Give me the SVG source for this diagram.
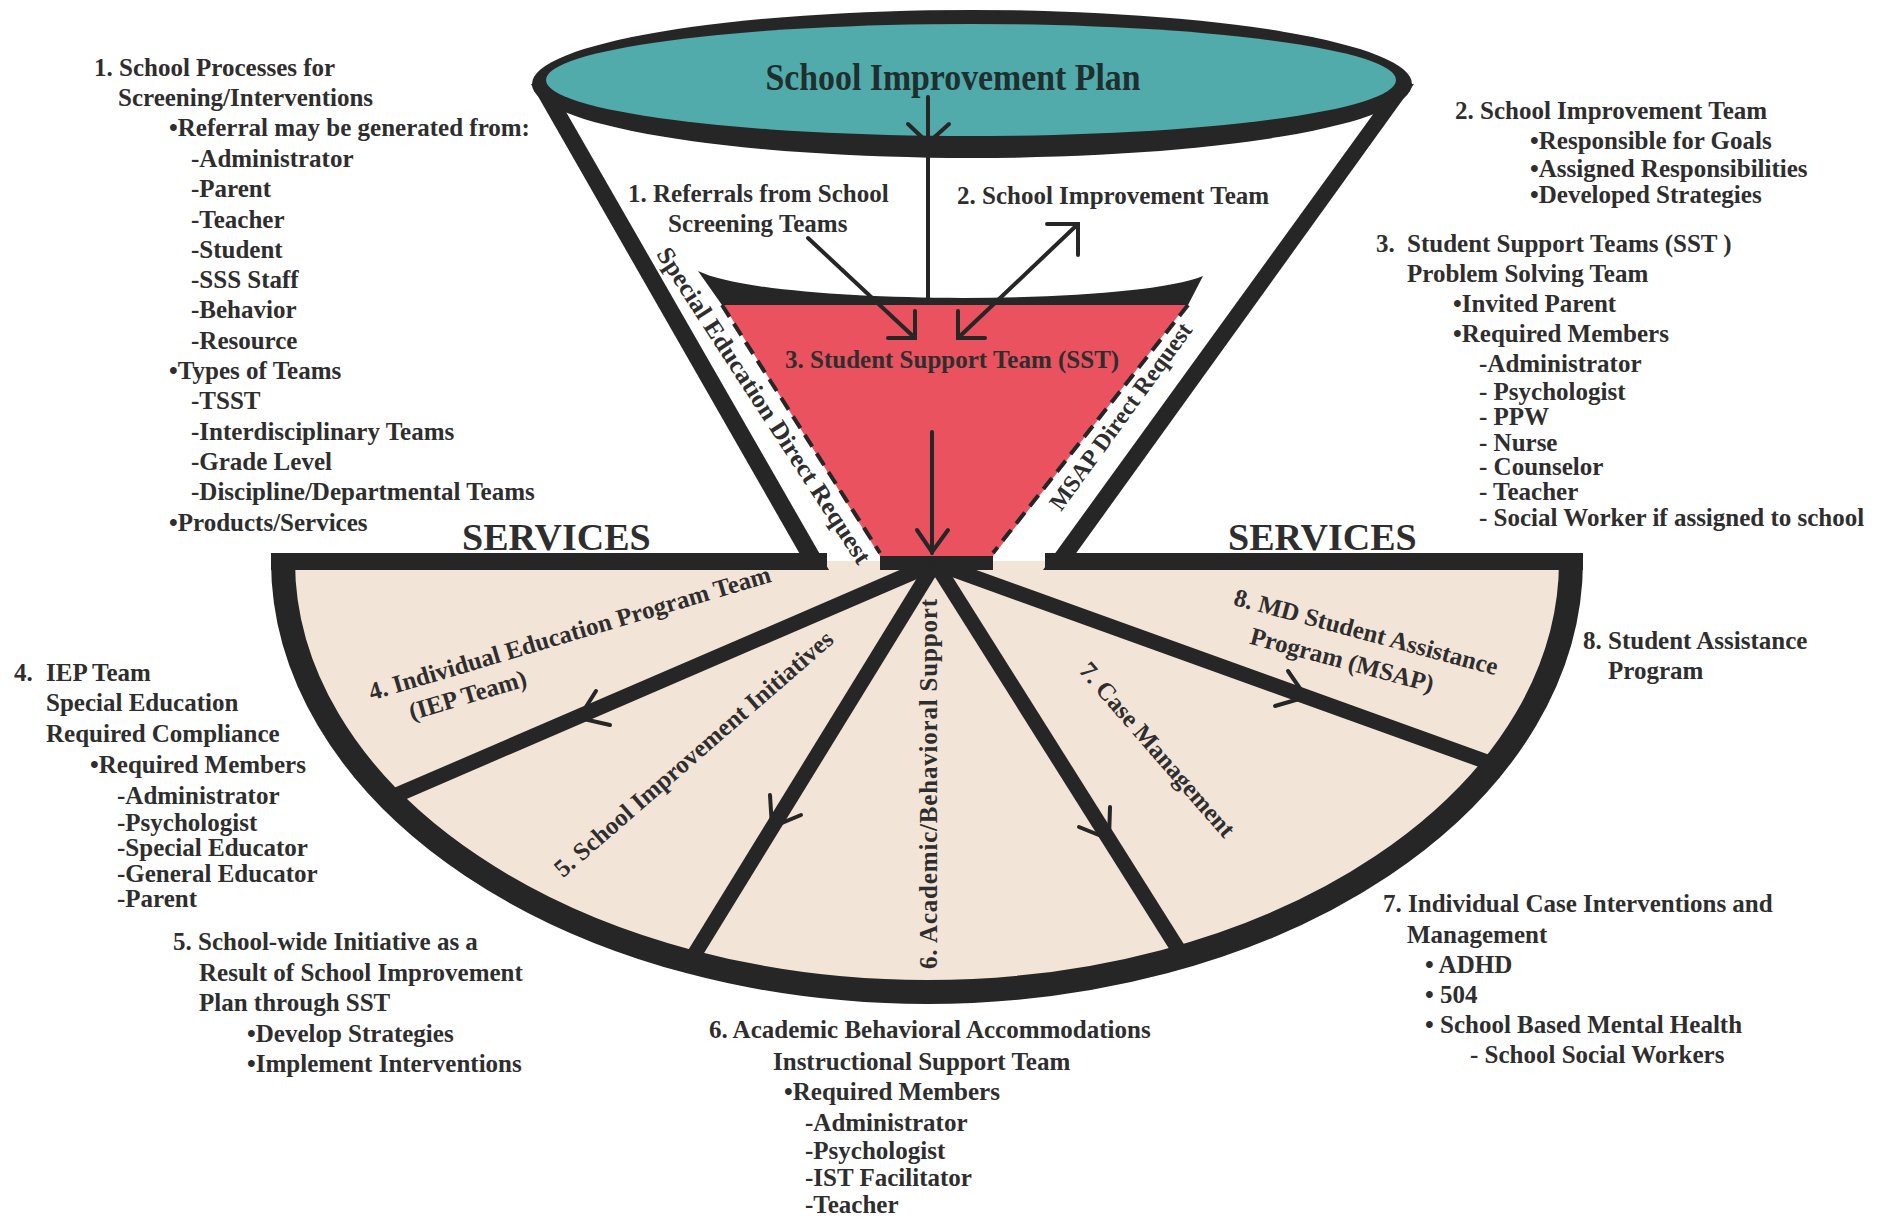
<svg xmlns="http://www.w3.org/2000/svg" width="1892" height="1218" viewBox="0 0 1892 1218">
<defs>
<style>
.t{font-family:"Liberation Serif","Times New Roman",serif;font-weight:bold;font-size:25px;fill:#2e2e2e}
.blk{fill:#262626}
.ln{stroke:#262626;stroke-width:4;fill:none;stroke-linecap:round;stroke-linejoin:miter}
.ray{stroke:#262626;stroke-width:15;fill:none}
.dash{stroke:#262626;stroke-width:4;stroke-dasharray:14 8;fill:none}
</style>
</defs>
<rect x="0" y="0" width="1892" height="1218" fill="#ffffff"/>

<g id="services-fan">
<path d="M 283 561 A 644 431 0 0 0 1571 561 Z" fill="#f3e4d8"/>
<path d="M 283 561 A 644 431 0 0 0 1571 561" fill="none" stroke="#262626" stroke-width="24"/>
<rect class="blk" x="271" y="553" width="556" height="17"/>
<rect class="blk" x="1045" y="553" width="538" height="17"/>
<rect class="blk" x="880" y="553" width="113" height="17"/>
<text class="t" x="462" y="550" style="font-size:38px">SERVICES</text>
<text class="t" x="1228" y="550" style="font-size:38px">SERVICES</text>
</g>

<g id="funnel">
<polygon class="blk" points="531,84 550,84 829,570 809,570"/>
<polygon class="blk" points="1395,84 1414,84 1064,570 1043,570"/>
</g>

<g id="sst">
<polygon points="722,303 1188,303 993,556 880,556" fill="#e9525e"/>
<path class="blk" d="M 698 271 C 770 306 1130 306 1203 276 L 1188 305 L 722 305 Z"/>
<line class="dash" x1="722" y1="305" x2="880" y2="553"/>
<line class="dash" x1="1188" y1="305" x2="993" y2="553"/>
<text class="t" x="785" y="368">3. Student Support Team (SST)</text>
</g>

<g id="plan">
<ellipse cx="972" cy="84" rx="440" ry="74" fill="#262626"/>
<ellipse cx="971" cy="80" rx="425" ry="56" fill="#50abaa"/>
<text class="t" x="953" y="90" text-anchor="middle" textLength="375" lengthAdjust="spacingAndGlyphs" style="font-size:37px;fill:#1f2f2f">School Improvement Plan</text>
</g>

<g id="connectors">
<line class="ln" x1="928" y1="97" x2="928" y2="303"/>
<polyline class="ln" points="908,124 928,143 949,124"/>
<line class="ln" x1="808" y1="238" x2="915" y2="338"/>
<polyline class="ln" points="888,338 915,338 915,311"/>
<line class="ln" x1="958" y1="338" x2="1078" y2="224"/>
<polyline class="ln" points="985,338 958,338 958,311"/>
<polyline class="ln" points="1047,224 1078,224 1078,255"/>
<line class="ln" x1="932" y1="432" x2="932" y2="553"/>
<polyline class="ln" points="917,530 932,552 948,530"/>
<line class="ray" x1="935" y1="563" x2="392" y2="797"/>
<line class="ray" x1="935" y1="563" x2="694" y2="955"/>
<line class="ray" x1="935" y1="563" x2="1180" y2="952"/>
<line class="ray" x1="935" y1="563" x2="1490" y2="763"/>
<polyline class="ln" points="596,691 579,718 610,725"/>
<polyline class="ln" points="770,795 772,827 801,815"/>
<polyline class="ln" points="1110,807 1109,839 1079,827"/>
<polyline class="ln" points="1288,671 1306,697 1275,706"/>
</g>

<g id="channel-labels">
<text class="t" transform="translate(757,410) rotate(57)" text-anchor="middle" textLength="372" lengthAdjust="spacingAndGlyphs" style="font-size:25px">Special Education Direct Request</text>
<text class="t" transform="translate(1127,421) rotate(-54)" text-anchor="middle" style="font-size:24px">MSAP Direct Request</text>
</g>

<g id="funnel-labels">
<text class="t" x="628" y="202">1. Referrals from School</text>
<text class="t" x="668" y="232">Screening Teams</text>
<text class="t" x="957" y="204">2. School Improvement Team</text>
</g>

<g id="fan-labels">
<text class="t" transform="translate(572,641) rotate(-16.5)" text-anchor="middle">4. Individual Education Program Team</text>
<text class="t" transform="translate(470,703) rotate(-16.5)" text-anchor="middle">(IEP Team)</text>
<text class="t" transform="translate(699,760) rotate(-41)" text-anchor="middle">5. School Improvement Initiatives</text>
<text class="t" transform="translate(937,784) rotate(-90)" text-anchor="middle" textLength="370" lengthAdjust="spacing">6. Academic/Behavioral Support</text>
<text class="t" transform="translate(1151,755) rotate(49)" text-anchor="middle">7. Case Management</text>
<text class="t" transform="translate(1364,640) rotate(15)" text-anchor="middle">8. MD Student Assistance</text>
<text class="t" transform="translate(1340,668) rotate(15)" text-anchor="middle">Program (MSAP)</text>
</g>

<g id="note-1">
<text class="t" x="94" y="76">1. School Processes for</text>
<text class="t" x="118" y="106">Screening/Interventions</text>
<text class="t" x="169" y="136">•Referral may be generated from:</text>
<text class="t" x="191" y="167">-Administrator</text>
<text class="t" x="191" y="197">-Parent</text>
<text class="t" x="191" y="228">-Teacher</text>
<text class="t" x="191" y="258">-Student</text>
<text class="t" x="191" y="288">-SSS Staff</text>
<text class="t" x="191" y="318">-Behavior</text>
<text class="t" x="191" y="349">-Resource</text>
<text class="t" x="169" y="379">•Types of Teams</text>
<text class="t" x="191" y="409">-TSST</text>
<text class="t" x="191" y="440">-Interdisciplinary Teams</text>
<text class="t" x="191" y="470">-Grade Level</text>
<text class="t" x="191" y="500">-Discipline/Departmental Teams</text>
<text class="t" x="169" y="531">•Products/Services</text>
</g>

<g id="note-2">
<text class="t" x="1455" y="119">2. School Improvement Team</text>
<text class="t" x="1530" y="149">•Responsible for Goals</text>
<text class="t" x="1530" y="177">•Assigned Responsibilities</text>
<text class="t" x="1530" y="203">•Developed Strategies</text>
</g>

<g id="note-3">
<text class="t" x="1376" y="252">3.</text>
<text class="t" x="1407" y="252">Student Support Teams (SST )</text>
<text class="t" x="1407" y="282">Problem Solving Team</text>
<text class="t" x="1453" y="312">•Invited Parent</text>
<text class="t" x="1453" y="342">•Required Members</text>
<text class="t" x="1479" y="372">-Administrator</text>
<text class="t" x="1479" y="400">- Psychologist</text>
<text class="t" x="1479" y="425">- PPW</text>
<text class="t" x="1479" y="451">- Nurse</text>
<text class="t" x="1479" y="475">- Counselor</text>
<text class="t" x="1479" y="500">- Teacher</text>
<text class="t" x="1479" y="526">- Social Worker if assigned to school</text>
</g>

<g id="note-8">
<text class="t" x="1583" y="649">8. Student Assistance</text>
<text class="t" x="1608" y="679">Program</text>
</g>

<g id="note-4">
<text class="t" x="14" y="681">4.</text>
<text class="t" x="46" y="681">IEP Team</text>
<text class="t" x="46" y="711">Special Education</text>
<text class="t" x="46" y="742">Required Compliance</text>
<text class="t" x="90" y="773">•Required Members</text>
<text class="t" x="117" y="804">-Administrator</text>
<text class="t" x="117" y="831">-Psychologist</text>
<text class="t" x="117" y="856">-Special Educator</text>
<text class="t" x="117" y="882">-General Educator</text>
<text class="t" x="117" y="907">-Parent</text>
</g>

<g id="note-5">
<text class="t" x="173" y="950">5. School-wide Initiative as a</text>
<text class="t" x="199" y="981">Result of School Improvement</text>
<text class="t" x="199" y="1011">Plan through SST</text>
<text class="t" x="247" y="1042">•Develop Strategies</text>
<text class="t" x="247" y="1072">•Implement Interventions</text>
</g>

<g id="note-6">
<text class="t" x="709" y="1038">6. Academic Behavioral Accommodations</text>
<text class="t" x="773" y="1070">Instructional Support Team</text>
<text class="t" x="784" y="1100">•Required Members</text>
<text class="t" x="805" y="1131">-Administrator</text>
<text class="t" x="805" y="1159">-Psychologist</text>
<text class="t" x="805" y="1186">-IST Facilitator</text>
<text class="t" x="805" y="1213">-Teacher</text>
</g>

<g id="note-7">
<text class="t" x="1383" y="912">7. Individual Case Interventions and</text>
<text class="t" x="1407" y="943">Management</text>
<text class="t" x="1425" y="973">• ADHD</text>
<text class="t" x="1425" y="1003">• 504</text>
<text class="t" x="1425" y="1033">• School Based Mental Health</text>
<text class="t" x="1470" y="1063">- School Social Workers</text>
</g>
</svg>
